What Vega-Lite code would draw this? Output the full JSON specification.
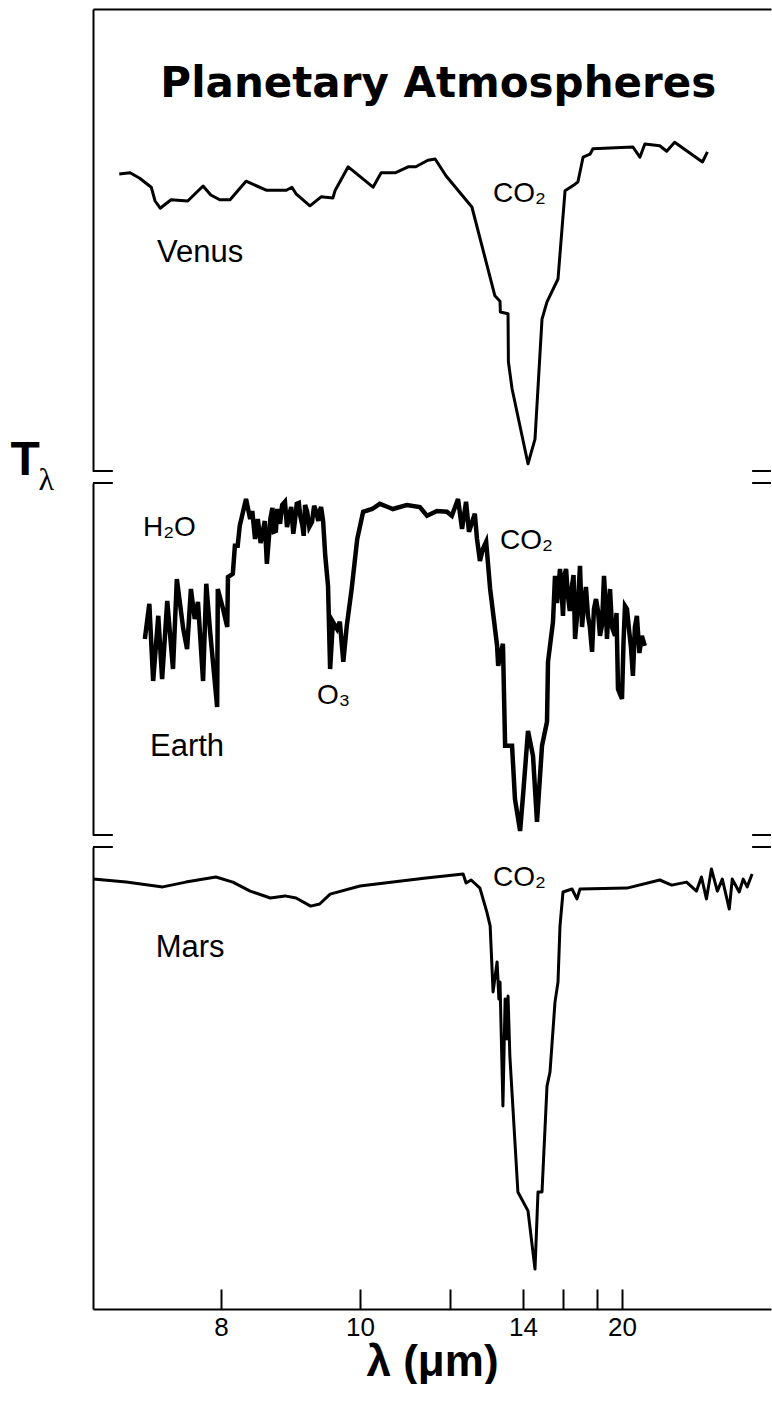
{
  "$schema": "https://vega.github.io/schema/vega-lite/v6.json",
  "padding": {"left": 10, "top": 9, "right": 0, "bottom": 0},
  "autosize": {"type": "pad"},
  "background": "white",
  "spacing": 12,
  "bounds": "flush",
  "config": {
    "view": {"stroke": null},
    "font": "Liberation Sans",
    "axis": {"domainColor": "#000", "domainWidth": 2, "tickColor": "#000", "labelColor": "#000", "titleColor": "#000", "grid": false}
  },
  "datasets": {
    "venus": [{"lam":6.41,"T":219.5},{"lam":6.58,"T":219.7},{"lam":6.73,"T":218.8},{"lam":6.91,"T":217.3},{"lam":6.97,"T":215.0},{"lam":7.05,"T":213.8},{"lam":7.22,"T":215.2},{"lam":7.48,"T":215.0},{"lam":7.72,"T":217.5},{"lam":7.84,"T":216.0},{"lam":7.98,"T":215.2},{"lam":8.13,"T":215.2},{"lam":8.36,"T":218.3},{"lam":8.65,"T":216.8},{"lam":8.94,"T":216.8},{"lam":9.02,"T":217.3},{"lam":9.08,"T":216.2},{"lam":9.28,"T":214.2},{"lam":9.44,"T":215.7},{"lam":9.61,"T":215.5},{"lam":9.64,"T":216.7},{"lam":9.83,"T":220.7},{"lam":10.29,"T":217.3},{"lam":10.47,"T":219.7},{"lam":10.78,"T":219.7},{"lam":11.07,"T":220.7},{"lam":11.24,"T":220.7},{"lam":11.51,"T":221.8},{"lam":11.67,"T":222.0},{"lam":11.91,"T":219.2},{"lam":12.19,"T":217.0},{"lam":12.60,"T":214.0},{"lam":13.23,"T":199.2},{"lam":13.37,"T":198.3},{"lam":13.38,"T":196.5},{"lam":13.59,"T":196.2},{"lam":13.60,"T":188.2},{"lam":13.70,"T":183.7},{"lam":14.25,"T":171.2},{"lam":14.60,"T":175.3},{"lam":14.95,"T":195.3},{"lam":15.20,"T":198.2},{"lam":15.75,"T":202.0},{"lam":16.12,"T":216.7},{"lam":16.71,"T":217.8},{"lam":16.88,"T":218.2},{"lam":17.18,"T":222.3},{"lam":17.59,"T":222.8},{"lam":17.76,"T":223.7},{"lam":22.2,"T":224.0},{"lam":23.6,"T":222.3},{"lam":24.6,"T":224.5},{"lam":27.6,"T":224.2},{"lam":29.0,"T":223.3},{"lam":30.6,"T":224.8},{"lam":36.2,"T":221.5},{"lam":37.2,"T":223.2}],
    "earth": [{"lam":6.81,"T":259.0},{"lam":6.88,"T":267.8},{"lam":6.94,"T":248.5},{"lam":7.02,"T":264.8},{"lam":7.08,"T":249.0},{"lam":7.16,"T":268.5},{"lam":7.25,"T":251.5},{"lam":7.31,"T":274.0},{"lam":7.41,"T":261.5},{"lam":7.47,"T":256.5},{"lam":7.53,"T":271.5},{"lam":7.59,"T":264.0},{"lam":7.64,"T":268.3},{"lam":7.72,"T":248.5},{"lam":7.77,"T":272.8},{"lam":7.83,"T":260.8},{"lam":7.94,"T":242.0},{"lam":7.95,"T":271.5},{"lam":8.03,"T":266.5},{"lam":8.09,"T":262.0},{"lam":8.10,"T":274.5},{"lam":8.17,"T":275.3},{"lam":8.20,"T":282.3},{"lam":8.24,"T":282.3},{"lam":8.27,"T":287.3},{"lam":8.36,"T":294.0},{"lam":8.42,"T":289.0},{"lam":8.45,"T":291.0},{"lam":8.49,"T":284.0},{"lam":8.53,"T":289.0},{"lam":8.57,"T":283.0},{"lam":8.60,"T":285.8},{"lam":8.63,"T":288.5},{"lam":8.66,"T":277.8},{"lam":8.71,"T":289.0},{"lam":8.74,"T":291.8},{"lam":8.76,"T":285.8},{"lam":8.79,"T":286.0},{"lam":8.81,"T":291.5},{"lam":8.85,"T":287.8},{"lam":8.88,"T":292.5},{"lam":8.92,"T":293.3},{"lam":8.95,"T":287.0},{"lam":8.98,"T":289.8},{"lam":9.01,"T":292.0},{"lam":9.04,"T":285.3},{"lam":9.06,"T":288.0},{"lam":9.09,"T":292.8},{"lam":9.12,"T":293.0},{"lam":9.14,"T":289.8},{"lam":9.17,"T":287.5},{"lam":9.19,"T":284.8},{"lam":9.21,"T":292.5},{"lam":9.24,"T":290.8},{"lam":9.27,"T":287.0},{"lam":9.31,"T":288.3},{"lam":9.34,"T":292.3},{"lam":9.37,"T":290.8},{"lam":9.40,"T":288.5},{"lam":9.42,"T":291.0},{"lam":9.44,"T":292.0},{"lam":9.47,"T":288.3},{"lam":9.50,"T":279.8},{"lam":9.54,"T":272.3},{"lam":9.57,"T":251.5},{"lam":9.61,"T":263.3},{"lam":9.67,"T":261.5},{"lam":9.71,"T":263.3},{"lam":9.76,"T":253.3},{"lam":9.81,"T":262.3},{"lam":9.88,"T":271.5},{"lam":9.96,"T":284.0},{"lam":10.07,"T":290.8},{"lam":10.27,"T":291.5},{"lam":10.44,"T":292.8},{"lam":10.62,"T":292.0},{"lam":10.73,"T":291.5},{"lam":11.04,"T":292.5},{"lam":11.33,"T":292.0},{"lam":11.49,"T":289.8},{"lam":11.71,"T":291.0},{"lam":11.93,"T":290.8},{"lam":12.05,"T":289.8},{"lam":12.22,"T":294.0},{"lam":12.33,"T":286.5},{"lam":12.44,"T":293.3},{"lam":12.52,"T":285.8},{"lam":12.68,"T":290.3},{"lam":12.74,"T":284.0},{"lam":12.82,"T":278.5},{"lam":12.90,"T":281.5},{"lam":12.99,"T":283.3},{"lam":13.10,"T":271.5},{"lam":13.29,"T":257.3},{"lam":13.32,"T":252.3},{"lam":13.45,"T":257.8},{"lam":13.51,"T":232.3},{"lam":13.70,"T":232.3},{"lam":13.78,"T":219.0},{"lam":13.92,"T":211.0},{"lam":14.00,"T":219.8},{"lam":14.25,"T":236.0},{"lam":14.50,"T":229.8},{"lam":14.70,"T":213.3},{"lam":14.95,"T":232.3},{"lam":15.20,"T":238.3},{"lam":15.25,"T":253.3},{"lam":15.50,"T":263.3},{"lam":15.60,"T":274.8},{"lam":15.70,"T":268.0},{"lam":15.85,"T":276.5},{"lam":15.93,"T":271.0},{"lam":16.00,"T":264.8},{"lam":16.09,"T":275.0},{"lam":16.18,"T":276.5},{"lam":16.29,"T":269.8},{"lam":16.40,"T":266.0},{"lam":16.53,"T":272.3},{"lam":16.62,"T":275.0},{"lam":16.71,"T":259.0},{"lam":16.85,"T":266.0},{"lam":17.00,"T":277.3},{"lam":17.12,"T":262.0},{"lam":17.24,"T":268.3},{"lam":17.35,"T":272.0},{"lam":17.47,"T":264.8},{"lam":17.58,"T":262.0},{"lam":17.71,"T":255.8},{"lam":17.82,"T":266.5},{"lam":17.94,"T":269.0},{"lam":18.08,"T":266.0},{"lam":18.24,"T":259.8},{"lam":18.40,"T":262.5},{"lam":18.56,"T":274.8},{"lam":18.68,"T":268.0},{"lam":18.80,"T":259.0},{"lam":18.92,"T":266.5},{"lam":19.04,"T":271.5},{"lam":19.2,"T":262.0},{"lam":19.44,"T":259.8},{"lam":19.56,"T":265.5},{"lam":19.68,"T":246.5},{"lam":20.00,"T":244.0},{"lam":20.3,"T":258.0},{"lam":20.6,"T":267.3},{"lam":21.0,"T":266.5},{"lam":21.4,"T":261.5},{"lam":21.8,"T":257.0},{"lam":22.2,"T":249.8},{"lam":22.6,"T":262.0},{"lam":23.0,"T":264.8},{"lam":23.5,"T":255.5},{"lam":24.0,"T":259.8},{"lam":24.6,"T":257.3}],
    "mars": [{"lam":6.00,"T":263.3},{"lam":6.52,"T":262.3},{"lam":7.09,"T":260.7},{"lam":7.45,"T":262.3},{"lam":7.92,"T":264.0},{"lam":8.17,"T":262.3},{"lam":8.42,"T":259.3},{"lam":8.71,"T":257.0},{"lam":8.92,"T":257.7},{"lam":9.08,"T":257.0},{"lam":9.29,"T":254.3},{"lam":9.42,"T":255.0},{"lam":9.57,"T":258.3},{"lam":10.00,"T":261.0},{"lam":10.73,"T":262.3},{"lam":11.47,"T":263.7},{"lam":12.36,"T":265.0},{"lam":12.44,"T":262.0},{"lam":12.58,"T":263.0},{"lam":12.82,"T":260.3},{"lam":13.01,"T":252.3},{"lam":13.10,"T":247.7},{"lam":13.18,"T":225.7},{"lam":13.29,"T":235.7},{"lam":13.34,"T":223.3},{"lam":13.37,"T":229.0},{"lam":13.42,"T":203.3},{"lam":13.45,"T":187.7},{"lam":13.51,"T":223.3},{"lam":13.56,"T":210.0},{"lam":13.59,"T":224.3},{"lam":13.64,"T":204.3},{"lam":13.86,"T":159.0},{"lam":14.25,"T":152.7},{"lam":14.60,"T":133.3},{"lam":14.75,"T":159.0},{"lam":14.95,"T":159.0},{"lam":15.20,"T":194.3},{"lam":15.35,"T":199.0},{"lam":15.60,"T":222.3},{"lam":15.75,"T":229.0},{"lam":15.85,"T":247.7},{"lam":16.00,"T":259.0},{"lam":16.53,"T":260.0},{"lam":16.82,"T":256.7},{"lam":17.00,"T":260.0},{"lam":21.0,"T":260.3},{"lam":27.6,"T":263.0},{"lam":30.0,"T":261.3},{"lam":33.0,"T":262.3},{"lam":35.0,"T":259.3},{"lam":36.0,"T":264.0},{"lam":37.0,"T":256.7},{"lam":38.0,"T":266.7},{"lam":39.2,"T":259.3},{"lam":40.2,"T":263.3},{"lam":41.6,"T":253.3},{"lam":42.2,"T":263.3},{"lam":43.6,"T":259.0},{"lam":44.4,"T":263.3},{"lam":45.2,"T":260.7},{"lam":46.2,"T":265.0}],
    "labels": [
      {"planet":"Venus","text":"Venus","lam":7.0,"T":204.8},
      {"planet":"Venus","text":"CO₂","lam":13.18,"T":214.8},
      {"planet":"Earth","text":"H₂O","lam":6.78,"T":284.75},
      {"planet":"Earth","text":"CO₂","lam":13.37,"T":281.5},
      {"planet":"Earth","text":"O₃","lam":9.38,"T":242.75},
      {"planet":"Earth","text":"Earth","lam":6.89,"T":229.75},
      {"planet":"Mars","text":"CO₂","lam":13.18,"T":261},
      {"planet":"Mars","text":"Mars","lam":6.98,"T":237.3}
    ],
    "breaks": [
      {"planet":"Venus","lam":6,"lam2":6.31,"T":170},
      {"planet":"Venus","lam":46.2,"lam2":50,"T":170},
      {"planet":"Earth","lam":6,"lam2":6.31,"T":298},
      {"planet":"Earth","lam":6,"lam2":6.31,"T":210},
      {"planet":"Earth","lam":46.2,"lam2":50,"T":298},
      {"planet":"Earth","lam":46.2,"lam2":50,"T":210},
      {"planet":"Mars","lam":6,"lam2":6.31,"T":274},
      {"planet":"Mars","lam":46.2,"lam2":50,"T":274}
    ],
    "title": [{"text":"Planetary Atmospheres","lam":11.74,"T":232.3}]
  },
  "vconcat": [
    {
      "width": 678,
      "height": 462,
      "layer": [
        {
          "data": {"name": "venus"},
          "mark": {"type": "line", "color": "#000", "strokeWidth": 3, "strokeJoin": "round"},
          "encoding": {
            "x": {"field": "lam", "type": "quantitative",
                  "scale": {"domain": [6,8,10,12,14,16,18,20,50], "range": [0,128,267,357,430,470,504,529,678], "nice": false, "zero": false},
                  "axis": {"orient": "top", "domain": true, "ticks": false, "labels": false, "title": null}},
            "y": {"field": "T", "type": "quantitative",
                  "scale": {"domain": [170, 247], "nice": false, "zero": false},
                  "axis": {"orient": "left", "domain": true, "ticks": false, "labels": false, "title": "T", "titleAngle": 0, "titleX": -83, "titleY": 465, "titleAlign": "left", "titleBaseline": "alphabetic", "titleFontSize": 48, "titleFontWeight": "bold", "titleFont": "Liberation Sans"}}
          }
        },
        {
          "data": {"name": "title"},
          "mark": {"type": "text", "font": "DejaVu Sans", "fontWeight": "bold", "fontSize": 42, "align": "center", "baseline": "alphabetic", "color": "#000"},
          "encoding": {
            "x": {"field": "lam", "type": "quantitative"},
            "y": {"field": "T", "type": "quantitative"},
            "text": {"field": "text"}
          }
        },
        {
          "data": {"name": "labels"},
          "transform": [{"filter": "datum.planet == 'Venus'"}],
          "mark": {"type": "text", "align": "left", "baseline": "alphabetic", "color": "#000", "font": "Liberation Sans"},
          "encoding": {
            "x": {"field": "lam", "type": "quantitative"},
            "y": {"field": "T", "type": "quantitative"},
            "text": {"field": "text"},
            "size": {"condition": {"test": "indexof(['Venus','Earth','Mars'], datum.text) >= 0", "value": 31}, "value": 28}
          }
        },
        {
          "data": {"name": "breaks"},
          "transform": [{"filter": "datum.planet == 'Venus'"}],
          "mark": {"type": "rule", "color": "#000", "strokeWidth": 2},
          "encoding": {
            "x": {"field": "lam", "type": "quantitative"},
            "x2": {"field": "lam2"},
            "y": {"field": "T", "type": "quantitative"}
          }
        }
      ]
    },
    {
      "width": 678,
      "height": 352,
      "layer": [
        {
          "data": {"name": "earth"},
          "mark": {"type": "line", "color": "#000", "strokeWidth": 4.5, "strokeJoin": "miter"},
          "encoding": {
            "x": {"field": "lam", "type": "quantitative",
                  "scale": {"domain": [6,8,10,12,14,16,18,20,50], "range": [0,128,267,357,430,470,504,529,678], "nice": false, "zero": false},
                  "axis": null},
            "y": {"field": "T", "type": "quantitative",
                  "scale": {"domain": [210, 298], "nice": false, "zero": false},
                  "axis": {"orient": "left", "domain": true, "ticks": false, "labels": false, "title": "λ", "titleAngle": 0, "titleX": -55, "titleY": 6, "titleAlign": "left", "titleBaseline": "alphabetic", "titleFontSize": 32, "titleFontWeight": "normal", "titleFont": "Liberation Serif"}}
          }
        },
        {
          "data": {"name": "labels"},
          "transform": [{"filter": "datum.planet == 'Earth'"}],
          "mark": {"type": "text", "align": "left", "baseline": "alphabetic", "color": "#000", "font": "Liberation Sans"},
          "encoding": {
            "x": {"field": "lam", "type": "quantitative"},
            "y": {"field": "T", "type": "quantitative"},
            "text": {"field": "text"},
            "size": {"condition": {"test": "indexof(['Venus','Earth','Mars'], datum.text) >= 0", "value": 31}, "value": 28}
          }
        },
        {
          "data": {"name": "breaks"},
          "transform": [{"filter": "datum.planet == 'Earth'"}],
          "mark": {"type": "rule", "color": "#000", "strokeWidth": 2},
          "encoding": {
            "x": {"field": "lam", "type": "quantitative"},
            "x2": {"field": "lam2"},
            "y": {"field": "T", "type": "quantitative"}
          }
        }
      ]
    },
    {
      "width": 678,
      "height": 462,
      "layer": [
        {
          "data": {"name": "mars"},
          "mark": {"type": "line", "color": "#000", "strokeWidth": 3, "strokeJoin": "round"},
          "encoding": {
            "x": {"field": "lam", "type": "quantitative",
                  "scale": {"domain": [6,8,10,12,14,16,18,20,50], "range": [0,128,267,357,430,470,504,529,678], "nice": false, "zero": false},
                  "axis": {"orient": "bottom", "values": [8,10,12,14,16,18,20], "format": "d",
                           "labelExpr": "datum.value == 12 || datum.value == 16 || datum.value == 18 ? '' : datum.label",
                           "tickSize": -20, "tickWidth": 2, "labelPadding": 25, "labelFontSize": 26, "labelFont": "Liberation Sans",
                           "labelOverlap": false, "labelFlush": false, "labelBaseline": "top",
                           "title": "λ (μm)", "titleFontSize": 44, "titleFontWeight": "bold", "titleFont": "Liberation Sans", "titlePadding": 0}},
            "y": {"field": "T", "type": "quantitative",
                  "scale": {"domain": [120, 274], "nice": false, "zero": false},
                  "axis": {"orient": "left", "domain": true, "ticks": false, "labels": false, "title": null}}
          }
        },
        {
          "data": {"name": "labels"},
          "transform": [{"filter": "datum.planet == 'Mars'"}],
          "mark": {"type": "text", "align": "left", "baseline": "alphabetic", "color": "#000", "font": "Liberation Sans"},
          "encoding": {
            "x": {"field": "lam", "type": "quantitative"},
            "y": {"field": "T", "type": "quantitative"},
            "text": {"field": "text"},
            "size": {"condition": {"test": "indexof(['Venus','Earth','Mars'], datum.text) >= 0", "value": 31}, "value": 28}
          }
        },
        {
          "data": {"name": "breaks"},
          "transform": [{"filter": "datum.planet == 'Mars'"}],
          "mark": {"type": "rule", "color": "#000", "strokeWidth": 2},
          "encoding": {
            "x": {"field": "lam", "type": "quantitative"},
            "x2": {"field": "lam2"},
            "y": {"field": "T", "type": "quantitative"}
          }
        }
      ]
    }
  ]
}
